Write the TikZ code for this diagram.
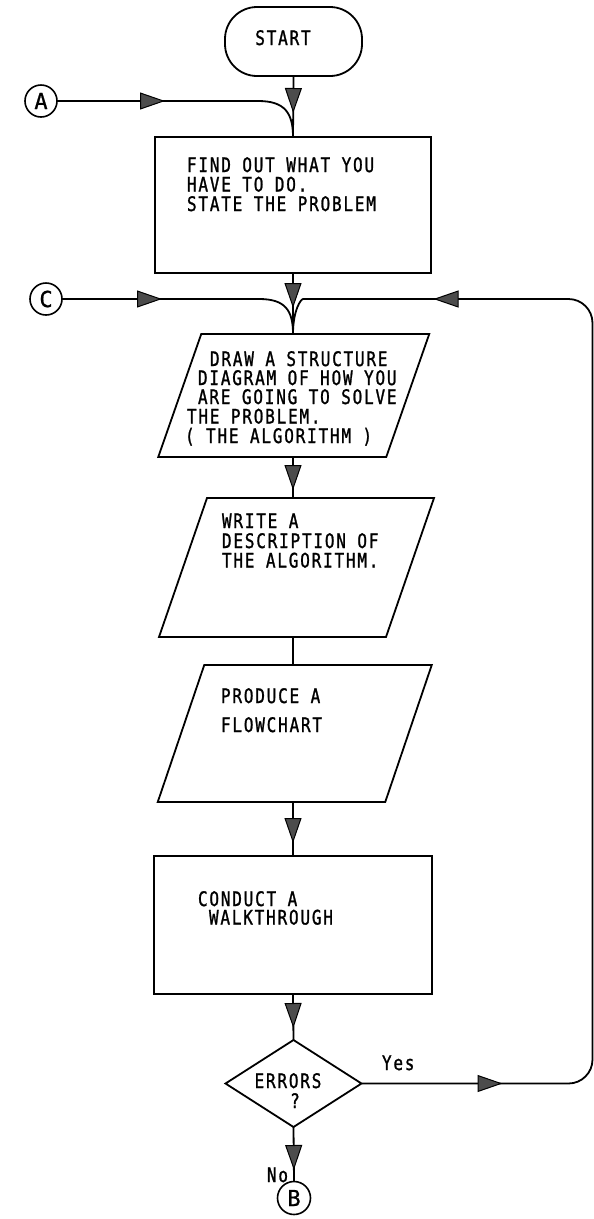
\documentclass[tikz,border=0pt]{standalone}
\usepackage{fontspec}
\newfontfamily\dfont[LetterSpace=9,FakeStretch=0.8,FakeBold=1.2]{DejaVu Sans Mono}
\newfontfamily\cfont[FakeBold=1]{DejaVu Sans Mono}
\usetikzlibrary{arrows.meta,shapes.geometric,decorations.markings}
\begin{document}
\begin{tikzpicture}[x=1pt,y=-1pt,line width=1.8pt,
  every node/.style={inner sep=0pt,outer sep=0pt},
  txt/.style={anchor=base west,font=\dfont\fontsize{20}{20}\selectfont},
  ctxt/.style={anchor=base,font=\dfont\fontsize{20}{20}\selectfont},
  etxt/.style={anchor=base east,font=\dfont\fontsize{20}{20}\selectfont},
  conn/.style={circle,draw,line width=1.6pt,minimum size=32pt,font=\cfont\fontsize{22}{22}\selectfont},
  box/.style={draw,rectangle},
  ghost/.style={rectangle},
  ftri/.tip={Triangle[width=17pt,length=25pt,fill=black!70,line width=1pt]},
  ma/.style={postaction={decorate,decoration={markings,mark=at position #1 with {\arrow{ftri}}}}},
]
\useasboundingbox (0,0) rectangle (594,1219);

% shapes
\node[box,rounded corners=32pt,minimum width=137pt,minimum height=69pt] (start) at (293.5,41.5) {};
\node[ctxt] (tstart) at (283,45) {START};

\node[box,minimum width=276pt,minimum height=136pt] (b1) at (293,205) {};
\node[txt] (t1a) at (187,172) {FIND OUT WHAT YOU};
\node[txt] (t1b) at (187,191.5) {HAVE TO DO.};
\node[txt] (t1c) at (187,211) {STATE THE PROBLEM};

\node[ghost,minimum width=228pt,minimum height=123pt] (p1) at (293.75,395.5) {};
\draw ([xshift=21.5pt]p1.north west) -- ([xshift=21.5pt]p1.north east)
  -- ([xshift=-21.5pt]p1.south east) -- ([xshift=-21.5pt]p1.south west) -- cycle;
\node[txt] (t2a) at (210,366) {DRAW A STRUCTURE};
\node[txt] (t2b) at (198,385) {DIAGRAM OF HOW YOU};
\node[txt] (t2c) at (198,404) {ARE GOING TO SOLVE};
\node[txt] (t2d) at (187,423.5) {THE PROBLEM.};
\node[txt] (t2e) at (185,443) {( THE ALGORITHM )};

\node[ghost,minimum width=227pt,minimum height=139pt] (p2) at (296.5,567.5) {};
\draw ([xshift=24pt]p2.north west) -- ([xshift=24pt]p2.north east)
  -- ([xshift=-24pt]p2.south east) -- ([xshift=-24pt]p2.south west) -- cycle;
\node[txt] (t3a) at (222,528) {WRITE A};
\node[txt] (t3b) at (222,548) {DESCRIPTION OF};
\node[txt] (t3c) at (222,567.5) {THE ALGORITHM.};

\node[ghost,minimum width=227.5pt,minimum height=137pt] (p3) at (294.75,733.5) {};
\draw ([xshift=23.25pt]p3.north west) -- ([xshift=23.25pt]p3.north east)
  -- ([xshift=-23.25pt]p3.south east) -- ([xshift=-23.25pt]p3.south west) -- cycle;
\node[txt] (t4a) at (221,703) {PRODUCE A};
\node[txt] (t4b) at (221,732) {FLOWCHART};

\node[box,minimum width=278pt,minimum height=138pt] (b4) at (293,925) {};
\node[txt] (t5a) at (198,906) {CONDUCT A};
\node[txt] (t5b) at (209,924.5) {WALKTHROUGH};

\node[draw,diamond,minimum width=136pt,minimum height=87pt] (dia) at (293.5,1083.5) {};
\node[ctxt] (t6a) at (288,1088) {ERRORS};
\node[ctxt] (t6b) at (295,1108) {?};

\node[conn] (A) at (41,101) {A};
\node[conn] (C) at (46,299) {C};
\node[conn,minimum size=33pt] (B) at (294,1198) {B};

\node[txt] (yes) at (382,1070) {Yes};
\node[etxt] (no) at (288,1182) {No};

% connectors
\draw[ma=37pt] (start.south) -- (b1.north);
\draw[ma=108pt] (A.east) -- (258,101) .. controls (284,101) and (293,112) .. (b1.north);
\draw[ma=35pt] (b1.south) -- (b1.south |- p1.north);
\draw[ma=100pt] (C.east) -- (259,299) .. controls (285,299) and (293,310) .. (b1.south |- p1.north);
\draw[postaction={decorate,decoration={markings,
    mark=at position 141pt with {\arrow{ftri}},
    mark=at position -168pt with {\arrow{ftri}}}}]
  (dia.east) [rounded corners=24pt] -- (592.5,1083.5) -- (592.5,299) -- (327,299)
  [sharp corners] .. controls (301,299) and (293,310) .. (b1.south |- p1.north);
\draw[ma=33pt] (b1.south |- p1.south) -- (b1.south |- p2.north);
\draw (b1.south |- p2.south) -- (b1.south |- p3.north);
\draw[ma=41pt] (b1.south |- p3.south) -- (b4.north);
\draw[ma=34pt] (b4.south) -- (dia.north);
\draw[ma=43pt] (dia.south) -- (B.north);
\end{tikzpicture}
\end{document}
